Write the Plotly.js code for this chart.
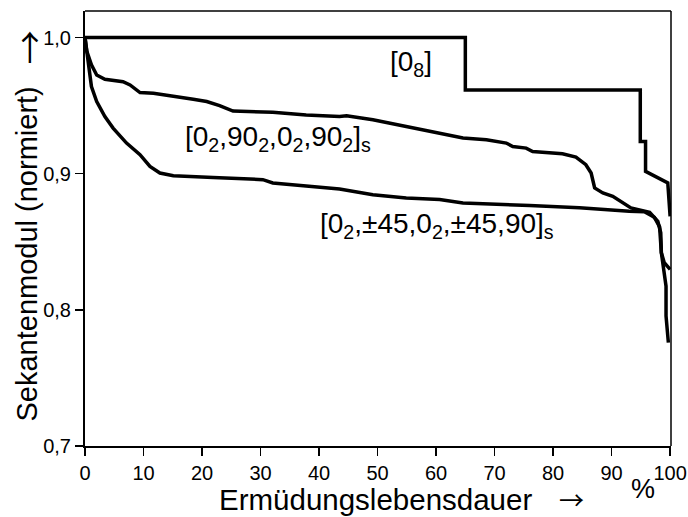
<!DOCTYPE html>
<html>
<head>
<meta charset="utf-8">
<script src="https://cdn.plot.ly/plotly-3.0.1.min.js"></script>
<style>body{margin:0;padding:0;background:#fff;}#chart{width:688px;height:517px;}</style>
</head>
<body>
<div id="chart"></div>
<script>
// [0_8]
var x_08 = [0, 65, 65, 94.9, 94.9, 95.8, 95.8, 99.6, 100];
var y_08 = [1.0, 1.0, 0.9615, 0.9615, 0.9237, 0.9237, 0.9017, 0.8932, 0.8687];
// [0_2,90_2,0_2,90_2]s
var x_090 = [0, 0.3, 1.1, 2.0, 3.4, 6.5, 7.7, 9.4, 11.7, 16.2, 18.5, 20.8, 23.0, 25.3, 28.2, 32.1, 37.8, 43.5, 44.7, 49.2, 54.9, 60.6, 64.6, 68.6, 72.0, 73.1, 75.4, 76.5, 81.6, 83.9, 85.6, 86.5, 87.1, 88.5, 90.2, 93.3, 96.5, 97.9, 98.4, 98.5, 99.0, 100];
var y_090 = [1.0, 0.99, 0.980, 0.9725, 0.9694, 0.9676, 0.9652, 0.9596, 0.9591, 0.9566, 0.9547, 0.953, 0.950, 0.946, 0.9454, 0.9452, 0.9432, 0.942, 0.9425, 0.9396, 0.9347, 0.9298, 0.9262, 0.9249, 0.9225, 0.920, 0.9188, 0.9163, 0.9146, 0.9122, 0.9066, 0.9005, 0.8895, 0.8859, 0.8834, 0.8749, 0.8717, 0.865, 0.8566, 0.842, 0.8346, 0.8297];
// [0_2,±45,0_2,±45,90]s
var x_45 = [0, 0.3, 0.6, 1.1, 2.0, 3.4, 4.8, 7.1, 9.4, 11.1, 12.8, 15.1, 21.9, 28.2, 30.4, 32.1, 37.8, 43.5, 49.2, 54.9, 60.6, 64.6, 76.0, 84.5, 93.0, 95.6, 97.3, 98.2, 98.5, 99.3, 99.3, 99.7];
var y_45 = [1.0, 0.99, 0.981, 0.964, 0.953, 0.942, 0.9335, 0.9225, 0.914, 0.9053, 0.9005, 0.8985, 0.8973, 0.8956, 0.8956, 0.8932, 0.8907, 0.8888, 0.8846, 0.8822, 0.881, 0.8785, 0.8766, 0.8749, 0.8724, 0.872, 0.868, 0.861, 0.842, 0.8174, 0.7955, 0.776];

var xTickVals = [0, 10, 20, 30, 40, 50, 60, 70, 80, 90, 100];
var xTickText = ['0', '10', '20', '30', '40', '50', '60', '70', '80', '90', '100'];
var yTickVals = [0.7, 0.8, 0.9, 1.0];
var yTickText = ['0,7', '0,8', '0,9', '1,0'];

var labelTexts = ['[0<sub>8</sub>]', '[0<sub>2</sub>,90<sub>2</sub>,0<sub>2</sub>,90<sub>2</sub>]<sub>s</sub>', '[0<sub>2</sub>,\u00b145,0<sub>2</sub>,\u00b145,90]<sub>s</sub>'];
var labelX = [51.7, 16.7, 39.8];
var labelY = [0.981, 0.926, 0.862];
var xTitle = 'Ermüdungslebensdauer';
var yTitle = 'Sekantenmodul (normiert)';
var arrowChar = '\u2192';

var font = 'Liberation Sans, Arial, sans-serif';
var arrowFont = 'Noto Sans CJK JP, DejaVu Sans, sans-serif';
var lineStyle = {color: '#000', width: 3.5};

var traces = [
  {x: x_08, y: y_08, mode: 'lines', line: lineStyle, hoverinfo: 'skip'},
  {x: x_090, y: y_090, mode: 'lines', line: lineStyle, hoverinfo: 'skip'},
  {x: x_45, y: y_45, mode: 'lines', line: lineStyle, hoverinfo: 'skip'}
];

var annotations = [];
for (var i = 0; i < labelTexts.length; i++) {
  annotations.push({x: labelX[i], y: labelY[i], xref: 'x', yref: 'y', text: labelTexts[i],
    showarrow: false, xanchor: 'left', yanchor: 'middle', font: {family: font, size: 28, color: '#000'}});
}
annotations.push({x: 0.225, y: -0.124, xref: 'paper', yref: 'paper', text: xTitle,
  showarrow: false, xanchor: 'left', yanchor: 'middle', font: {family: font, size: 29.5, color: '#000'}});
annotations.push({x: 0.83, y: -0.1218, xref: 'paper', yref: 'paper', text: arrowChar,
  showarrow: false, xanchor: 'center', yanchor: 'middle', font: {family: arrowFont, size: 25, color: '#000'}});
annotations.push({x: 0.952, y: -0.099, xref: 'paper', yref: 'paper', text: '%',
  showarrow: false, xanchor: 'center', yanchor: 'middle', font: {family: font, size: 27, color: '#000'}});
annotations.push({x: -0.099, y: 0.4425, xref: 'paper', yref: 'paper', text: yTitle,
  textangle: -90, showarrow: false, xanchor: 'center', yanchor: 'middle', font: {family: font, size: 29, color: '#000'}});
annotations.push({x: -0.097, y: 0.917, xref: 'paper', yref: 'paper', text: arrowChar,
  textangle: -90, showarrow: false, xanchor: 'center', yanchor: 'middle', font: {family: arrowFont, size: 34, color: '#000'}});

var layout = {
  width: 688, height: 517,
  margin: {l: 85, r: 17, t: 11, b: 71},
  paper_bgcolor: '#fff', plot_bgcolor: '#fff',
  showlegend: false,
  font: {family: font, color: '#000'},
  xaxis: {range: [0, 100.15], showgrid: false, zeroline: false, showline: true, linecolor: '#000', linewidth: 2,
    ticks: 'outside', ticklen: 8, tickwidth: 1.5, tickcolor: '#000', tickvals: xTickVals, ticktext: xTickText,
    tickfont: {family: font, size: 20, color: '#000'}, fixedrange: true},
  yaxis: {range: [0.7, 1.0195], showgrid: false, zeroline: false, showline: true, linecolor: '#000', linewidth: 2,
    ticks: 'outside', ticklen: 8, tickwidth: 1.5, tickcolor: '#000', tickvals: yTickVals, ticktext: yTickText,
    tickfont: {family: font, size: 20, color: '#000'}, fixedrange: true},
  shapes: [
    {type: 'line', xref: 'paper', yref: 'paper', x0: 0, x1: 1, y0: 1, y1: 1, line: {color: '#000', width: 1.5}},
    {type: 'line', xref: 'paper', yref: 'paper', x0: 1, x1: 1, y0: 0, y1: 1, line: {color: '#000', width: 1.5}}
  ],
  annotations: annotations
};

Plotly.newPlot('chart', traces, layout, {staticPlot: true, displayModeBar: false});
</script>
</body>
</html>
